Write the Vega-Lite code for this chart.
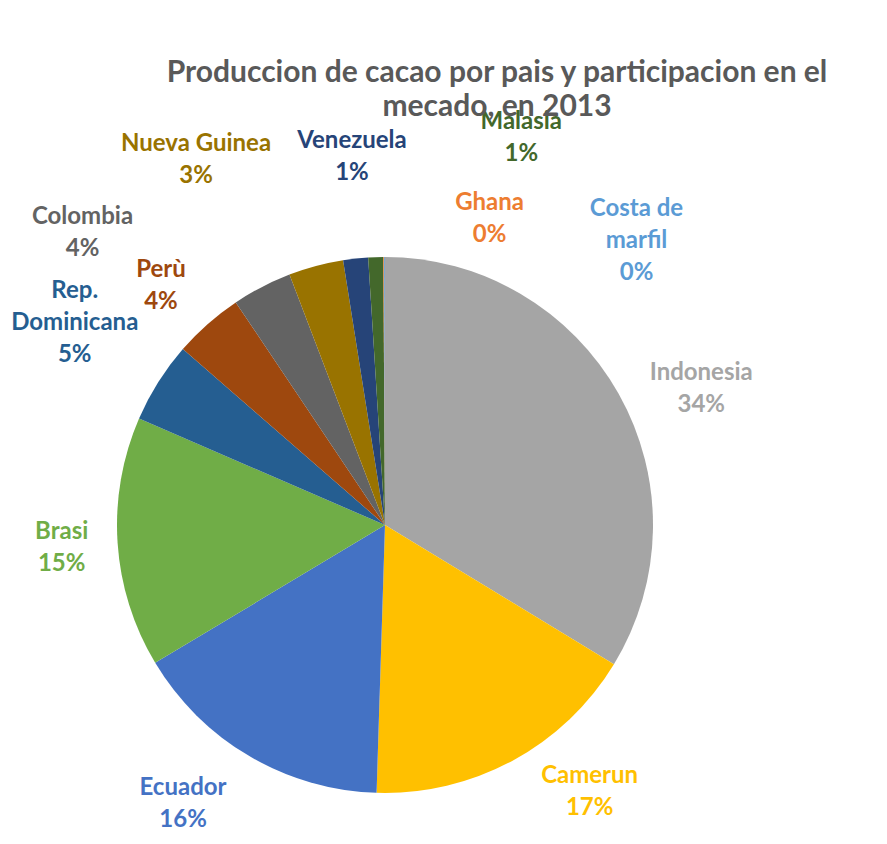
{
  "$schema": "https://vega.github.io/schema/vega-lite/v6.json",
  "width": 536,
  "height": 536,
  "autosize": {"type": "none"},
  "padding": {"left": 117, "top": 257, "right": 234, "bottom": 51},
  "background": "white",
  "config": {
    "view": {"stroke": null},
    "text": {"font": "Lato", "fontWeight": "bold", "fontSize": 24, "lineBreak": "\n", "lineHeight": 32, "baseline": "middle", "align": "center"}
  },
  "title": {
    "text": ["Produccion de cacao por pais y participacion en el", "mecado,  en 2013"],
    "font": "Lato",
    "fontSize": 30,
    "fontWeight": "bold",
    "color": "#595959",
    "anchor": "middle",
    "frame": "group",
    "dx": 112,
    "dy": 16,
    "lineHeight": 34
  },
  "data": {
    "values": [
      {"rank": 1, "country": "Indonesia", "share": 33.7, "label": "Indonesia\n34%"},
      {"rank": 2, "country": "Camerun", "share": 16.8, "label": "Camerun\n17%"},
      {"rank": 3, "country": "Ecuador", "share": 15.9, "label": "Ecuador\n16%"},
      {"rank": 4, "country": "Brasi", "share": 15.1, "label": "Brasi\n15%"},
      {"rank": 5, "country": "Rep. Dominicana", "share": 4.9, "label": "Rep.\nDominicana\n5%"},
      {"rank": 6, "country": "Perù", "share": 4.2, "label": "Perù\n4%"},
      {"rank": 7, "country": "Colombia", "share": 3.6, "label": "Colombia\n4%"},
      {"rank": 8, "country": "Nueva Guinea", "share": 3.3, "label": "Nueva Guinea\n3%"},
      {"rank": 9, "country": "Venezuela", "share": 1.5, "label": "Venezuela\n1%"},
      {"rank": 10, "country": "Malasia", "share": 0.9, "label": "Malasia\n1%"},
      {"rank": 11, "country": "Ghana", "share": 0.05, "label": "Ghana\n0%"},
      {"rank": 12, "country": "Costa de marfil", "share": 0.05, "label": "Costa de\nmarfil\n0%"}
    ]
  },
  "encoding": {
    "theta": {"field": "share", "type": "quantitative", "stack": true},
    "order": {"field": "rank", "type": "quantitative"},
    "color": {
      "field": "country",
      "type": "nominal",
      "legend": null,
      "scale": {
        "domain": ["Indonesia", "Camerun", "Ecuador", "Brasi", "Rep. Dominicana", "Perù", "Colombia", "Nueva Guinea", "Venezuela", "Malasia", "Ghana", "Costa de marfil"],
        "range": ["#A5A5A5", "#FFC000", "#4472C4", "#70AD47", "#255E91", "#9E480E", "#636363", "#997300", "#264478", "#43682B", "#ED7D31", "#5B9BD5"]
      }
    }
  },
  "layer": [
    {"mark": {"type": "arc"}},
    {"mark": {"type": "text", "radius": 310, "dx": 46, "dy": 0},
     "encoding": {"text": {"condition": {"test": "datum.country === 'Indonesia'", "field": "label"}, "value": ""}}},
    {"mark": {"type": "text", "radius": 310, "dx": 57, "dy": -22},
     "encoding": {"text": {"condition": {"test": "datum.country === 'Camerun'", "field": "label"}, "value": ""}}},
    {"mark": {"type": "text", "radius": 310, "dx": -45, "dy": -4},
     "encoding": {"text": {"condition": {"test": "datum.country === 'Ecuador'", "field": "label"}, "value": ""}}},
    {"mark": {"type": "text", "radius": 310, "dx": -14, "dy": -13},
     "encoding": {"text": {"condition": {"test": "datum.country === 'Brasi'", "field": "label"}, "value": ""}}},
    {"mark": {"type": "text", "radius": 310, "dx": -48, "dy": -69},
     "encoding": {"text": {"condition": {"test": "datum.country === 'Rep. Dominicana'", "field": "label"}, "value": ""}}},
    {"mark": {"type": "text", "radius": 310, "dx": -19, "dy": -22},
     "encoding": {"text": {"condition": {"test": "datum.country === 'Perù'", "field": "label"}, "value": ""}}},
    {"mark": {"type": "text", "radius": 310, "dx": -160, "dy": -33},
     "encoding": {"text": {"condition": {"test": "datum.country === 'Colombia'", "field": "label"}, "value": ""}}},
    {"mark": {"type": "text", "radius": 310, "dx": -109, "dy": -81},
     "encoding": {"text": {"condition": {"test": "datum.country === 'Nueva Guinea'", "field": "label"}, "value": ""}}},
    {"mark": {"type": "text", "radius": 310, "dx": 1, "dy": -76},
     "encoding": {"text": {"condition": {"test": "datum.country === 'Venezuela'", "field": "label"}, "value": ""}}},
    {"mark": {"type": "text", "radius": 310, "dx": 147, "dy": -93},
     "encoding": {"text": {"condition": {"test": "datum.country === 'Malasia'", "field": "label"}, "value": ""}}},
    {"mark": {"type": "text", "radius": 310, "dx": 106, "dy": -12},
     "encoding": {"text": {"condition": {"test": "datum.country === 'Ghana'", "field": "label"}, "value": ""}}},
    {"mark": {"type": "text", "radius": 310, "dx": 252, "dy": -6},
     "encoding": {"text": {"condition": {"test": "datum.country === 'Costa de marfil'", "field": "label"}, "value": ""}}}
  ]
}
